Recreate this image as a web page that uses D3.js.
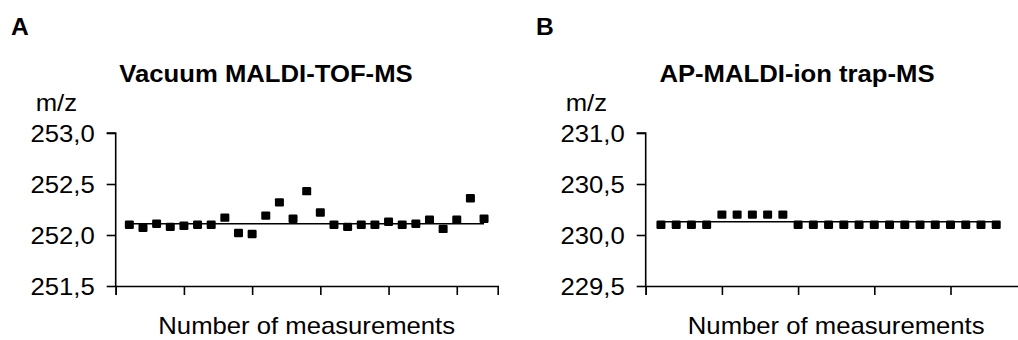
<!DOCTYPE html>
<html>
<head>
<meta charset="utf-8">
<script src="https://cdn.jsdelivr.net/npm/d3@7"></script>
<style>
  body { margin: 0; background: #fff; }
  svg { display: block; }
  text { font-family: "Liberation Sans", Arial, sans-serif; fill: #000; }
</style>
</head>
<body>
<div id="chart"></div>
<script>
// values
const panelLetters = ["A", "B"]
const panelTitles = ["Vacuum MALDI-TOF-MS", "AP-MALDI-ion trap-MS"]
const axisLabel = "Number of measurements"
const yLabel = "m/z"

const tofValues = [252.10, 252.07, 252.11, 252.08, 252.09, 252.10, 252.10, 252.17, 252.02, 252.01,
  252.19, 252.32, 252.16, 252.43, 252.22, 252.10, 252.08, 252.10, 252.10, 252.13,
  252.10, 252.11, 252.15, 252.06, 252.15, 252.36, 252.16]
const tofLine = 252.11
const tofTicks = [251.5, 252.0, 252.5, 253.0]

const trapValues = [230.10, 230.10, 230.10, 230.10, 230.20, 230.20, 230.20, 230.20, 230.20,
  230.10, 230.10, 230.10, 230.10, 230.10, 230.10, 230.10, 230.10, 230.10, 230.10,
  230.10, 230.10, 230.10, 230.10]
const trapLine = 230.13
const trapTicks = [229.5, 230.0, 230.5, 231.0]

const xTicksTof = [0, 5, 10, 15, 20, 25]
const xTicksTrap = [0, 5, 10, 15, 20]

const W = 1018, H = 340
const stretch = 1.07   // the figure's text is a little wider than plain Arial

const comma = d3.formatLocale({ decimal: ",", thousands: ".", grouping: [3], currency: ["", ""] }).format(".1f")

const svg = d3.select("#chart").append("svg")
  .attr("width", W).attr("height", H)

function label(g, str, x, y, size, weight, anchor) {
  return g.append("text")
    .attr("transform", `translate(${x},${y}) scale(${stretch},1)`)
    .attr("text-anchor", anchor || "start")
    .style("font-size", size + "px")
    .style("font-weight", weight || "normal")
    .text(str)
}

function panel(opt) {
  const g = svg.append("g")
  const x = d3.scaleLinear().domain(opt.xDomain).range([opt.left, opt.right])
  const y = d3.scaleLinear().domain([opt.ticks[0], opt.ticks[opt.ticks.length - 1]]).range([286, 133])

  label(g, opt.letter, opt.letterX, 35, 23, "bold")
  label(g, opt.title, opt.titleX, 82, 24, "bold", "middle")
  label(g, yLabel, opt.left - 80, 111, 24)

  // y axis, ticks pointing left
  const yAxis = d3.axisLeft(y).tickValues(opt.ticks).tickSize(9).tickPadding(12).tickFormat(comma)
  const ya = g.append("g").attr("transform", `translate(${opt.left},0)`).call(yAxis)
  ya.select(".domain").attr("d", `M${-9},${y(opt.ticks[opt.ticks.length - 1])}H0V${y(opt.ticks[0])}`)
  ya.selectAll("text").remove()
  opt.ticks.forEach(t => label(ya, comma(t), -21, y(t) + 8.6, 24, "normal", "end"))

  // x axis, ticks pointing down
  const xAxis = d3.axisBottom(x).tickValues(opt.xTicks).tickSize(9).tickFormat("")
  g.append("g").attr("transform", `translate(0,${y(opt.ticks[0])})`).call(xAxis)

  g.selectAll(".domain, .tick line").attr("stroke", "#000").attr("stroke-width", 1.6)

  label(g, axisLabel, (opt.left + opt.right) / 2, 334, 24, "normal", "middle")

  // reference line through the measurements
  g.append("line")
    .attr("x1", x(1)).attr("x2", x(opt.values.length))
    .attr("y1", y(opt.line)).attr("y2", y(opt.line))
    .attr("stroke", "#000").attr("stroke-width", 1.6)

  g.selectAll("rect.pt").data(opt.values).enter().append("rect")
    .attr("class", "pt")
    .attr("x", (d, i) => x(i + 1) - 4.5)
    .attr("y", d => y(d) - 4.2)
    .attr("width", 9).attr("height", 8.4)
    .attr("rx", 1.2)
    .attr("fill", "#000")
}

panel({
  letter: panelLetters[0], letterX: 11, title: panelTitles[0], titleX: 266,
  values: tofValues, line: tofLine, ticks: tofTicks, xTicks: xTicksTof,
  xDomain: [0, 28], left: 115.7, right: 497.7
})

panel({
  letter: panelLetters[1], letterX: 536, title: panelTitles[1], titleX: 797,
  values: trapValues, line: trapLine, ticks: trapTicks, xTicks: xTicksTrap,
  xDomain: [0, 25], left: 645.7, right: 1026.7
})
</script>
</body>
</html>
